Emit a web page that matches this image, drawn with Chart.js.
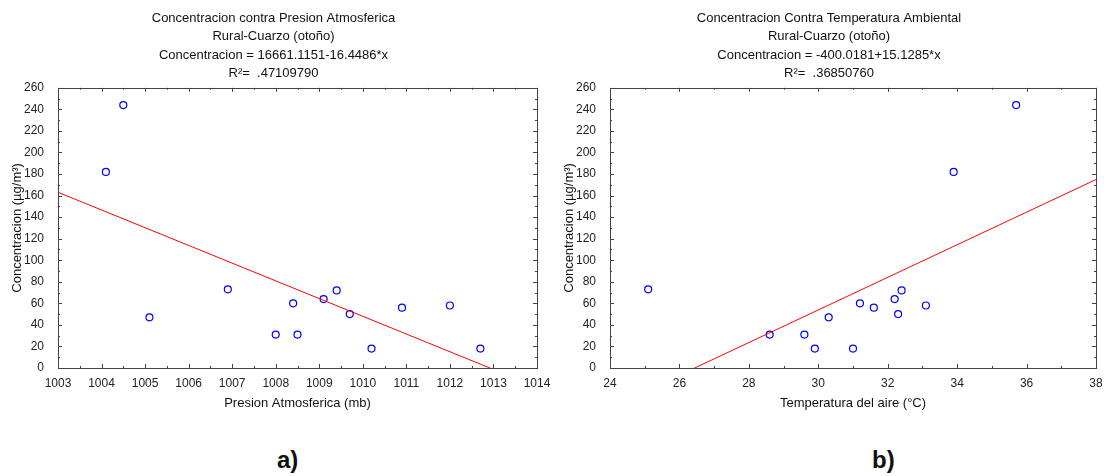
<!DOCTYPE html>
<html>
<head>
<meta charset="utf-8">
<script src="https://cdn.jsdelivr.net/npm/chart.js@4"></script>
<style>
  body { margin: 0; background: #fff; font-family: "Liberation Sans", Arial, sans-serif; }
  #wrap { position: relative; width: 1104px; height: 476px; }
  .panel { position: absolute; top: 0; width: 552px; height: 430px; }
  .tag { position: absolute; top: 446px; font-size: 24px; font-weight: bold; color: #111; }
</style>
</head>
<body>
<div id="wrap">
  <div class="panel" style="left:0"><canvas id="chartA"></canvas></div>
  <div class="panel" style="left:552px"><canvas id="chartB"></canvas></div>
  <div class="tag" style="left:277px">a)</div>
  <div class="tag" style="left:872px">b)</div>
</div>
<script>
// panel a: concentration vs atmospheric pressure
const presion = [1004.1, 1004.5, 1005.1, 1006.9, 1008.0, 1008.4, 1008.5, 1009.1, 1009.4, 1009.7, 1010.2, 1010.9, 1012.0, 1012.7];
const concA = [182, 244, 47, 73, 31, 60, 31, 64, 72, 50, 18, 56, 58, 18];
// fit line end points (Concentracion = 16661.1151-16.4486*x)
const fitXA = [1003, 1014];
const fitYA = [163.1, -17.8];

// panel b: concentration vs air temperature
const temperatura = [25.1, 28.6, 29.6, 29.9, 30.3, 31.0, 31.2, 31.6, 32.2, 32.3, 32.4, 33.1, 33.9, 35.7];
const concB = [73, 31, 31, 18, 47, 18, 60, 56, 64, 50, 72, 58, 182, 244];
// fit line end points (Concentracion = -400.0181+15.1285*x)
const fitXB = [24, 38];
const fitYB = [-36.9, 174.9];

const titleA = ["Concentracion contra Presion Atmosferica", "Rural-Cuarzo (otoño)", "Concentracion = 16661.1151-16.4486*x", "R²=  .47109790"];
const titleB = ["Concentracion Contra Temperatura Ambiental", "Rural-Cuarzo (otoño)", "Concentracion = -400.0181+15.1285*x", "R²=  .36850760"];

const FONT = "'Liberation Sans', Arial, sans-serif";

// box round the plot with small inward ticks on all four sides
const framePlugin = {
  id: "frame",
  afterDraw(chart) {
    const { ctx, chartArea: a, scales } = chart;
    const x = scales.x, y = scales.y;
    ctx.save();
    ctx.strokeStyle = "#444";
    ctx.lineWidth = 1;
    ctx.strokeRect(Math.round(a.left) + 0.5, Math.round(a.top) + 0.5,
      Math.round(a.right - a.left), Math.round(a.bottom - a.top));

    const xt = x.ticks.map((t) => t.value);
    const yt = y.ticks.map((t) => t.value);
    ctx.beginPath();
    xt.forEach((v, i) => {
      const px = Math.round(x.getPixelForValue(v)) + 0.5;
      ctx.moveTo(px, a.bottom); ctx.lineTo(px, a.bottom - 4);
      ctx.moveTo(px, a.top); ctx.lineTo(px, a.top + 4);
      if (i < xt.length - 1) {
        const pm = Math.round(x.getPixelForValue((v + xt[i + 1]) / 2)) + 0.5;
        ctx.moveTo(pm, a.bottom); ctx.lineTo(pm, a.bottom - 2);
        ctx.moveTo(pm, a.top); ctx.lineTo(pm, a.top + 2);
      }
    });
    yt.forEach((v, i) => {
      const py = Math.round(y.getPixelForValue(v)) + 0.5;
      ctx.moveTo(a.left, py); ctx.lineTo(a.left + 4, py);
      ctx.moveTo(a.right, py); ctx.lineTo(a.right - 4, py);
      if (i < yt.length - 1) {
        const pm = Math.round(y.getPixelForValue((v + yt[i + 1]) / 2)) + 0.5;
        ctx.moveTo(a.left, pm); ctx.lineTo(a.left + 2, pm);
        ctx.moveTo(a.right, pm); ctx.lineTo(a.right - 2, pm);
      }
    });
    ctx.stroke();
    ctx.restore();
  },
};

function makeChart(id, xs, ys, fitX, fitY, title, xTitle, xMin, xMax, xStep, padRight) {
  const points = xs.map((v, i) => ({ x: v, y: ys[i] }));
  const fit = fitX.map((v, i) => ({ x: v, y: fitY[i] }));
  return new Chart(document.getElementById(id), {
    type: "scatter",
    data: {
      datasets: [
        {
          data: fit,
          type: "line",
          showLine: true,
          borderColor: "#ff0000",
          borderWidth: 1,
          pointRadius: 0,
          fill: false,
        },
        {
          data: points,
          pointStyle: "circle",
          pointRadius: 3.5,
          borderColor: "#0000ff",
          backgroundColor: "rgba(0,0,0,0)",
          borderWidth: 1.2,
        },
      ],
    },
    options: {
      responsive: true,
      maintainAspectRatio: false,
      animation: false,
      layout: { padding: { left: 10, right: padRight, top: 0, bottom: 19 } },
      plugins: {
        legend: { display: false },
        tooltip: { enabled: false },
        title: {
          display: true,
          text: title,
          color: "#111",
          font: { family: FONT, size: 13, weight: "normal", lineHeight: 1.42 },
          padding: { top: 9, bottom: 5 },
        },
      },
      scales: {
        x: {
          type: "linear",
          min: xMin,
          max: xMax,
          ticks: {
            stepSize: xStep,
            color: "#222",
            font: { family: FONT, size: 12 },
            padding: 0,
            maxRotation: 0,
            callback: (v) => String(v),
          },
          grid: { display: false },
          border: { display: false },
          title: { display: true, text: xTitle, color: "#111", font: { family: FONT, size: 13 }, padding: { top: 5, bottom: 0 } },
        },
        y: {
          min: 0,
          max: 260,
          ticks: { stepSize: 20, color: "#222", font: { family: FONT, size: 12 }, padding: 6 },
          grid: { display: false },
          border: { display: false },
          title: { display: true, text: "Concentracion (µg/m³)", color: "#111", font: { family: FONT, size: 13 }, padding: { top: 0, bottom: 2 } },
          afterFit: (scale) => { scale.width = 48; },
        },
      },
    },
    plugins: [framePlugin],
  });
}

makeChart("chartA", presion, concA, fitXA, fitYA, titleA, "Presion Atmosferica (mb)", 1003, 1014, 1, 15);
makeChart("chartB", temperatura, concB, fitXB, fitYB, titleB, "Temperatura del aire (°C)", 24, 38, 2, 8);
</script>
</body>
</html>
